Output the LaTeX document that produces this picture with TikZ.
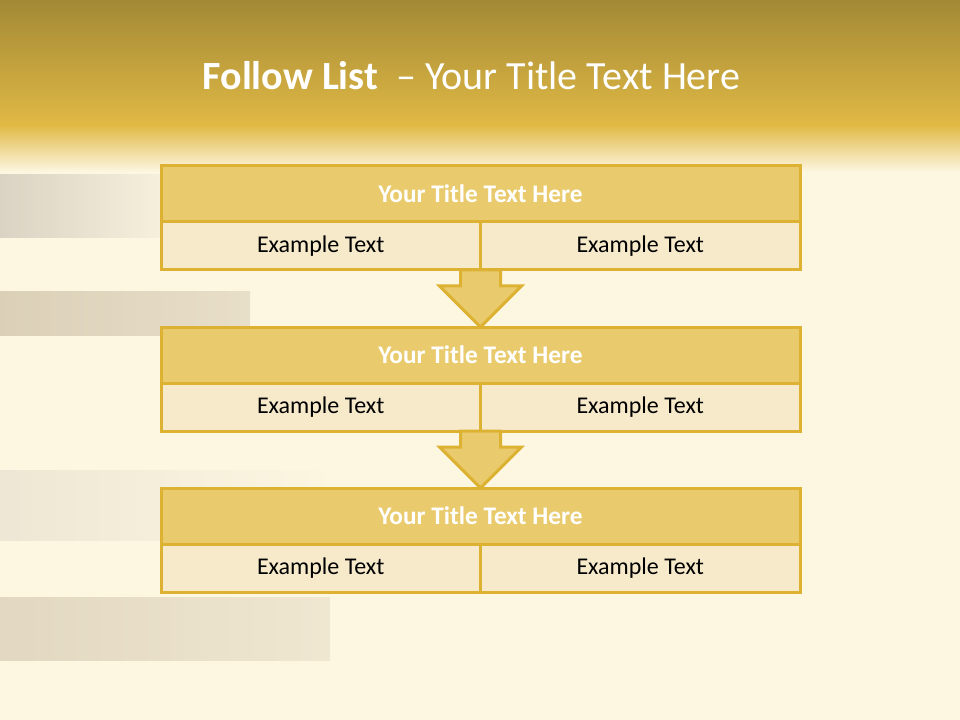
\documentclass[tikz,border=0pt]{standalone}
\usepackage{fontspec}
\setmainfont{Carlito}
\usepackage{xcolor}
\usepackage{tikz}
\usetikzlibrary{positioning,calc,backgrounds}

\definecolor{goldline}{HTML}{DDB233}
\definecolor{bandfill}{HTML}{E9CB6E}
\definecolor{cellfill}{HTML}{F6EACA}
\definecolor{creambg}{HTML}{FDF7E2}
\definecolor{topdark}{HTML}{A38936}
\definecolor{topgold}{HTML}{E0B945}
\definecolor{greybar}{HTML}{D2CABC}
\definecolor{brownbar}{HTML}{CDBFA6}

\tikzset{
  band/.style={draw=goldline, line width=2.25pt, fill=bandfill, outer sep=0pt,
    minimum width=479.25pt, minimum height=42pt, inner sep=0pt,
    font=\fontsize{19}{23}\selectfont\bfseries, text=white},
  cell/.style={draw=goldline, line width=2.25pt, fill=cellfill, outer sep=0pt,
    minimum width=239.625pt, minimum height=36pt, inner sep=0pt,
    font=\fontsize{18}{22}\selectfont, text=black},
  blockarrow/.style={draw=goldline, line width=2.25pt, fill=bandfill, line join=miter}
}

% fat down arrow from the divider of one box to the title of the next
\newcommand{\flowarrow}[2]{%
  \draw[blockarrow] ($(#1)+(-20,0)$) -- ($(#1)+(20,0)$) -- ($(#1)+(20,16)$)
    -- ($(#1)+(41,16)$) -- (#2) -- ($(#1)+(-41,16)$) -- ($(#1)+(-20,16)$) -- cycle;}

\begin{document}
\begin{tikzpicture}[x=0.75pt, y=-0.75pt]
    \useasboundingbox (0,0) rectangle (960,720);

    % background
    \fill[creambg] (0,0) rectangle (960,720);
    \shade[left color=greybar, right color=creambg, opacity=0.8] (0,175) rectangle (200,238);
    \shade[left color=brownbar, right color=brownbar!60!creambg, opacity=0.7] (0,292) rectangle (250,335);
    \shade[left color=greybar, right color=creambg, opacity=0.35] (0,470) rectangle (330,540);
    \shade[left color=brownbar, right color=brownbar!50!creambg, opacity=0.55] (0,597) rectangle (330,660);
    \shade[top color=topdark, bottom color=topgold] (0,0) rectangle (960,125);
    \shade[top color=topgold, bottom color=creambg] (0,125) rectangle (960,172);

    % title
    \node[text=white, font=\fontsize{30}{36}\selectfont] (title) at (471.5,76)
        {\textbf{Follow List}\ \ -- Your Title Text Here};

    % first box
    \node[band] (t1) at (480.5,194) {Your Title Text Here};
    \node[cell, anchor=north west] (a1) at (t1.south west) {Example Text};
    \node[cell, anchor=north east] (b1) at (t1.south east) {Example Text};

    % second box
    \node[band] (t2) at (480.5,355) {Your Title Text Here};
    \node[cell, anchor=north west] (a2) at (t2.south west) {Example Text};
    \node[cell, anchor=north east] (b2) at (t2.south east) {Example Text};

    % third box
    \node[band] (t3) at (480.5,516) {Your Title Text Here};
    \node[cell, anchor=north west] (a3) at (t3.south west) {Example Text};
    \node[cell, anchor=north east] (b3) at (t3.south east) {Example Text};

    \flowarrow{a1.south east}{t2.north}
    \flowarrow{a2.south east}{t3.north}
\end{tikzpicture}
\end{document}
